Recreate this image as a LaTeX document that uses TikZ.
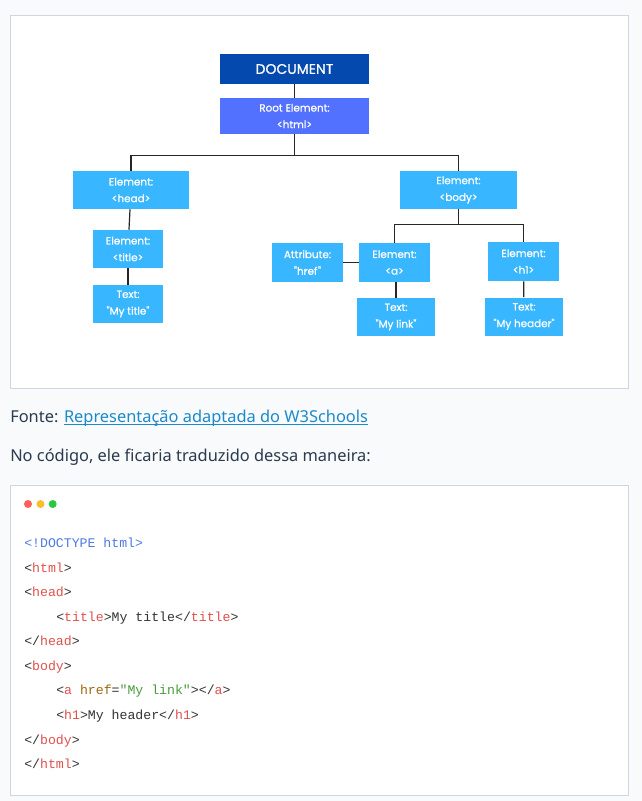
\documentclass[tikz,border=0pt]{standalone}
\usepackage{fontspec}
\usepackage{xcolor}
\setmainfont{Noto Sans}
\newfontfamily\diagfont{Poppins}[FakeBold=0.8]
\newfontfamily\codefont{Liberation Mono}

\definecolor{pagebg}{HTML}{F8FAFC}
\definecolor{framegray}{HTML}{CFD6DE}
\definecolor{docblue}{HTML}{0449AD}
\definecolor{rootblue}{HTML}{5271FF}
\definecolor{elemblue}{HTML}{38B6FF}
\definecolor{bodytext}{HTML}{2B3A4E}
\definecolor{linkblue}{HTML}{1B8ACB}
\definecolor{doctype}{HTML}{4F7BE0}
\definecolor{tagred}{HTML}{E0524F}
\definecolor{attrbrown}{HTML}{9A6A10}
\definecolor{strgreen}{HTML}{4A9B3C}
\definecolor{plain}{HTML}{333333}
\definecolor{dotred}{HTML}{FF5F56}
\definecolor{dotyellow}{HTML}{FFBD2E}
\definecolor{dotgreen}{HTML}{27C93F}

\newcommand{\tg}[1]{\textcolor{tagred}{#1}}
\newcommand{\lt}{\textcolor{plain}{<}}
\newcommand{\gt}{\textcolor{plain}{>}}
\newcommand{\lts}{\textcolor{plain}{</}}

\tikzset{
    box/.style={fill=elemblue, text=white, minimum width=#1, minimum height=28.5pt,
        inner sep=0pt, align=center, font=\diagfont\fontsize{7.8}{12.5}\selectfont},
    wire/.style={draw=black!85, line width=0.9pt},
    codeline/.style={anchor=base west, inner sep=0pt, text=plain,
        font=\codefont\fontsize{9.9}{12}\selectfont},
    prose/.style={anchor=base west, inner sep=0pt, text=bodytext,
        font=\fontsize{12.3}{14}\selectfont}
}

\begin{document}
\begin{tikzpicture}[x=0.75pt, y=-0.75pt]

    % page and frames
    \fill[pagebg] (0,0) rectangle (642,801);
    \draw[framegray, fill=white] (10.5,15.5) rectangle (628.5,388.5);
    \draw[framegray, fill=white] (10.5,485.5) rectangle (628.5,795.5);

    % tree
    \node[box=111.75pt, minimum height=22.5pt, fill=docblue,
        font=\diagfont\fontsize{10.5}{12}\selectfont] (doc) at (294.5,69) {DOCUMENT};
    \node[box=111.75pt, minimum height=27pt, fill=rootblue] (root) at (294.5,116) {Root Element:\\<html>};
    \node[box=87pt] (head) at (131,190) {Element:\\<head>};
    \node[box=87.75pt] (body) at (458.5,190) {Element:\\<body>};
    \node[box=52.5pt] (title) at (128,249) {Element:\\<title>};
    \node[box=52.5pt] (titletext) at (128,304) {Text:\\"My title"};
    \node[box=53.25pt, minimum height=29.25pt] (attr) at (307.5,262.5) {Attribute:\\"href\kern0.4pt"};
    \node[box=53.25pt, minimum height=29.25pt] (a) at (394.5,262.5) {Element:\\<a>};
    \node[box=58.5pt] (atext) at (396,317) {Text:\\"My link"};
    \node[box=53.25pt, minimum height=29.25pt] (h1) at (523.5,261.5) {Element:\\<h1>};
    \node[box=58.5pt] (h1text) at (524,316.5) {Text:\\"My header"};

    \draw[wire] (doc) -- (root);
    \draw[wire] (root.south) -- ++(0,21) coordinate (rootbus) -| (head.north);
    \draw[wire] (rootbus) -| (body.north);
    \draw[wire] (head) -- (title);
    \draw[wire] (title) -- (titletext);
    \draw[wire] (body.south) -- ++(0,15) coordinate (bodybus) -| (a.north);
    \draw[wire] (bodybus) -| (h1.north);
    \draw[wire] (attr) -- (a);
    \draw[wire] (a.south -| atext.north) -- (atext.north);
    \draw[wire] (h1) -- (h1text);

    % caption
    \node[prose] (fonte) at (10,422) {Fonte:};
    \node[prose, text=linkblue, xshift=3.8pt] (link) at (fonte.base east) {Representação adaptada do W3Schools};
    \draw[linkblue, line width=0.75pt] ([yshift=-2pt]link.base west) -- ([yshift=-2pt]link.base east);
    \node[prose] (intro) at (10,461) {No código, ele ficaria traduzido dessa maneira:};

    % window dots
    \fill[dotred] (28,504) circle (4);
    \fill[dotyellow] (40.5,504) circle (4);
    \fill[dotgreen] (52.7,504) circle (4);

    % code
    \node[codeline, text=doctype] (l1) at (24,547.5) {<!DOCTYPE html>};
    \node[codeline] (l2) at (24,572.5) {\lt\tg{html}\gt};
    \node[codeline] (l3) at (24,596.5) {\lt\tg{head}\gt};
    \node[codeline] (l4) at (56,621.5) {\lt\tg{title}\gt My title\lts\tg{title}\gt};
    \node[codeline] (l5) at (24,645.5) {\lts\tg{head}\gt};
    \node[codeline] (l6) at (24,670.5) {\lt\tg{body}\gt};
    \node[codeline] (l7) at (56,694.5) {\lt\tg{a} \textcolor{attrbrown}{href}=\textcolor{strgreen}{"My link"}\gt\lts\tg{a}\gt};
    \node[codeline] (l8) at (56,719.5) {\lt\tg{h1}\gt My header\lts\tg{h1}\gt};
    \node[codeline] (l9) at (24,744.5) {\lts\tg{body}\gt};
    \node[codeline] (l10) at (24,768.5) {\lts\tg{html}\gt};

\end{tikzpicture}
\end{document}
